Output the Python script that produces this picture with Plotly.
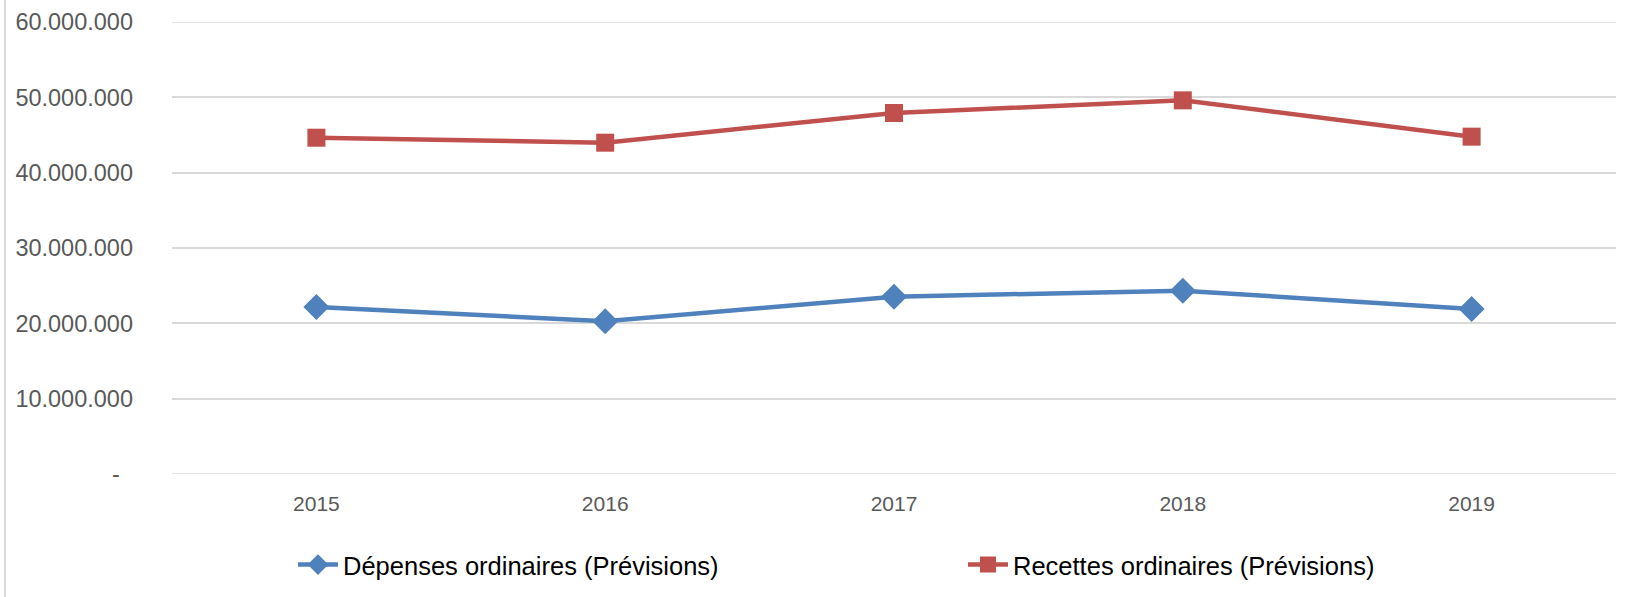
import plotly.graph_objects as go

years = ["2015", "2016", "2017", "2018", "2019"]
depenses = [22170000, 20270000, 23540000, 24330000, 21900000]
recettes = [44640000, 43980000, 47920000, 49600000, 44780000]
ytick_vals = [0, 10000000, 20000000, 30000000, 40000000, 50000000, 60000000]
ytick_text = ["-\u00a0\u00a0", "10.000.000", "20.000.000", "30.000.000", "40.000.000", "50.000.000", "60.000.000"]
names = ["Dépenses ordinaires (Prévisions)", "Recettes ordinaires (Prévisions)"]

W, H = 1633, 597
# plot area in page pixels
PL, PR, PT, PB = 172, 1616, 22, 474
L, T, R, B = PL, PT, W - PR, H - PB

fig = go.Figure()
fig.add_trace(go.Scatter(
    x=years, y=depenses, name=names[0], mode="lines+markers",
    line=dict(color="#4F81BD", width=4.5),
    marker=dict(symbol="diamond", size=20, color="#4F81BD"),
))
fig.add_trace(go.Scatter(
    x=years, y=recettes, name=names[1], mode="lines+markers",
    line=dict(color="#C0504D", width=4.5),
    marker=dict(symbol="square", size=18, color="#C0504D"),
))

pw = PR - PL
ph = PB - PT
# left frame border of the chart area
fig.add_shape(type="line", xref="paper", yref="paper",
              x0=(5 - PL) / pw, x1=(5 - PL) / pw,
              y0=(PB - 0) / ph, y1=(PB - H) / ph,
              line=dict(color="#d9d9d9", width=2))
# edge gridlines (plotly drops gridlines at the range edges)
for v in (ytick_vals[0], ytick_vals[-1]):
    fig.add_shape(type="line", xref="paper", yref="y", x0=0, x1=1, y0=v, y1=v,
                  line=dict(color="#d9d9d9", width=1.5), layer="below")

fig.update_layout(
    width=W, height=H,
    margin=dict(l=L, r=R, t=T, b=B, pad=0, autoexpand=False),
    paper_bgcolor="white", plot_bgcolor="white",
    font=dict(family="Liberation Sans, Arial, sans-serif", size=22, color="#595959"),
    showlegend=True,
    legend=dict(
        orientation="h", x=(293 - PL) / pw, xanchor="left",
        y=(PB - 565) / ph, yanchor="middle",
        entrywidth=615, entrywidthmode="pixels",
        font=dict(size=25.5, color="#000000"),
        itemwidth=40,
    ),
    xaxis=dict(
        type="category", range=[-0.5, 4.5],
        showgrid=False, showline=False, zeroline=False,
        ticks="", tickfont=dict(size=21, color="#595959"),
        ticklabelstandoff=15,
    ),
    yaxis=dict(
        range=[0, 60000000], tickvals=ytick_vals, ticktext=ytick_text,
        showgrid=True, gridcolor="#d9d9d9", gridwidth=1.5,
        zeroline=False, showline=False, ticks="",
        tickfont=dict(size=23.5, color="#595959"),
        ticklabelstandoff=38,
    ),
)

fig.write_html("out.html", config={"displayModeBar": False},
               post_script="document.body.style.margin='0';document.body.style.overflow='hidden';")
